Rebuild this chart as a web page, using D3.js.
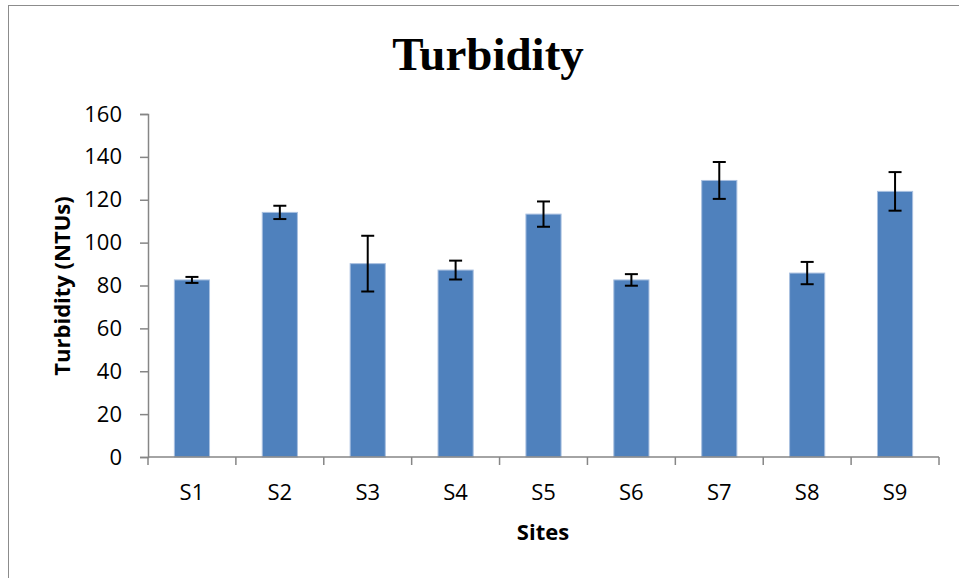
<!DOCTYPE html>
<html>
<head>
<meta charset="utf-8">
<script src="https://cdn.jsdelivr.net/npm/d3@7"></script>
<style>
  html, body { margin: 0; padding: 0; background: #fff; }
  svg { display: block; }
</style>
</head>
<body>
<div id="chart"></div>
<script>
// Data
const sites = ['S1', 'S2', 'S3', 'S4', 'S5', 'S6', 'S7', 'S8', 'S9'];
const turbidity = [82.6, 114.1, 90.2, 87.2, 113.3, 82.6, 129.0, 85.8, 123.9];
const errors = [1.4, 3.1, 13.0, 4.4, 5.9, 2.7, 8.6, 5.2, 9.0];
const yTicks = [0, 20, 40, 60, 80, 100, 120, 140, 160];

const width = 959, height = 578;
const margin = { top: 114, right: 20, bottom: 121, left: 148 };
const plotW = 939 - margin.left;
const plotH = 457 - margin.top;

const svg = d3.select('#chart').append('svg')
  .attr('width', width)
  .attr('height', height);

// outer chart-area border (runs off the right and bottom edges)
svg.append('rect')
  .attr('x', 8.5).attr('y', 5.5)
  .attr('width', 1000).attr('height', 1000)
  .attr('fill', 'none')
  .attr('stroke', '#8c8c8c')
  .attr('stroke-width', 1);

const g = svg.append('g').attr('transform', `translate(${margin.left},${margin.top})`);

const x = d3.scaleBand().domain(sites).range([0, plotW]).padding(0);
const y = d3.scaleLinear().domain([0, 160]).range([plotH, 0]);

const axisColor = '#868686';
const tickFont = '"Open Sans", "DejaVu Sans", sans-serif';

// y axis
const yAxis = g.append('g')
  .call(d3.axisLeft(y).tickValues(yTicks).tickSize(8).tickPadding(18).tickFormat(d3.format('d')));
yAxis.select('.domain').attr('stroke', axisColor).attr('stroke-width', 1.5);
yAxis.selectAll('.tick line').attr('stroke', axisColor).attr('stroke-width', 1.5);
yAxis.selectAll('.tick text')
  .attr('font-family', tickFont)
  .attr('font-size', 22)
  .attr('fill', '#000');

// bars
const barW = x.bandwidth() * 0.4;
g.append('g')
  .selectAll('rect')
  .data(sites)
  .join('rect')
  .attr('x', (d) => x(d) + (x.bandwidth() - barW) / 2)
  .attr('y', (d, i) => y(turbidity[i]))
  .attr('width', barW)
  .attr('height', (d, i) => plotH - y(turbidity[i]))
  .attr('fill', '#4f81bd')
  .attr('stroke', '#a9c0e0')
  .attr('stroke-width', 1);

// error bars
const capW = 13;
const err = g.append('g')
  .attr('stroke', '#000')
  .attr('stroke-width', 2)
  .selectAll('g')
  .data(sites)
  .join('g')
  .attr('transform', (d) => `translate(${x(d) + x.bandwidth() / 2},0)`);
err.append('line')
  .attr('y1', (d, i) => y(turbidity[i] + errors[i]))
  .attr('y2', (d, i) => y(turbidity[i] - errors[i]));
err.append('line')
  .attr('x1', -capW / 2).attr('x2', capW / 2)
  .attr('y1', (d, i) => y(turbidity[i] + errors[i]))
  .attr('y2', (d, i) => y(turbidity[i] + errors[i]));
err.append('line')
  .attr('x1', -capW / 2).attr('x2', capW / 2)
  .attr('y1', (d, i) => y(turbidity[i] - errors[i]))
  .attr('y2', (d, i) => y(turbidity[i] - errors[i]));

// x axis: ticks sit on category boundaries, labels in the middle
const xAxis = g.append('g').attr('transform', `translate(0,${plotH})`);
xAxis.append('line')
  .attr('x1', 0).attr('x2', plotW)
  .attr('stroke', axisColor).attr('stroke-width', 1.5);
const bounds = sites.map((d) => x(d)).concat([plotW]);
xAxis.selectAll('line.tick')
  .data(bounds)
  .join('line')
  .attr('class', 'tick')
  .attr('x1', (d) => d).attr('x2', (d) => d)
  .attr('y1', 0).attr('y2', 8)
  .attr('stroke', axisColor).attr('stroke-width', 1.5);
xAxis.selectAll('text')
  .data(sites)
  .join('text')
  .attr('x', (d) => x(d) + x.bandwidth() / 2)
  .attr('y', 35)
  .attr('dy', '0.35em')
  .attr('text-anchor', 'middle')
  .attr('font-family', tickFont)
  .attr('font-size', 22)
  .text((d) => d);

// axis titles
svg.append('text')
  .attr('x', 543)
  .attr('y', 532)
  .attr('dy', '0.35em')
  .attr('text-anchor', 'middle')
  .attr('font-family', tickFont)
  .attr('font-weight', 'bold')
  .attr('font-size', 22)
  .text('Sites');

svg.append('text')
  .attr('transform', 'translate(62,286) rotate(-90)')
  .attr('dy', '0.35em')
  .attr('text-anchor', 'middle')
  .attr('font-family', tickFont)
  .attr('font-weight', 'bold')
  .attr('font-size', 22)
  .text('Turbidity (NTUs)');

// chart title
svg.append('text')
  .attr('x', 488)
  .attr('y', 70)
  .attr('text-anchor', 'middle')
  .attr('font-family', '"Liberation Serif", "Times New Roman", serif')
  .attr('font-weight', 'bold')
  .attr('font-size', 47)
  .text('Turbidity');
</script>
</body>
</html>
